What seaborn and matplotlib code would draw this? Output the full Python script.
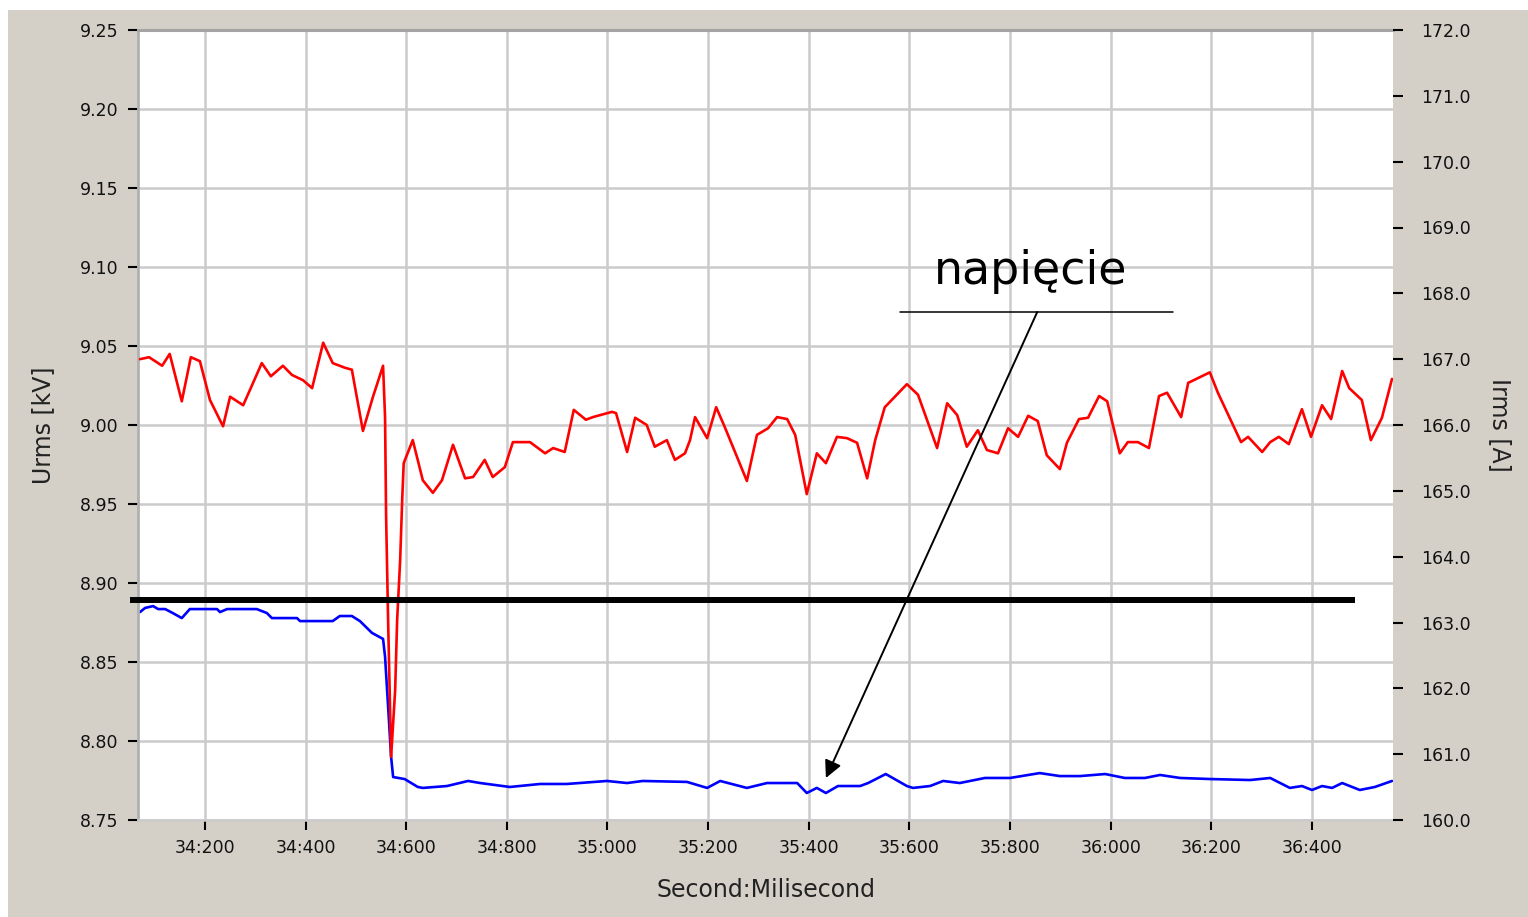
import matplotlib
matplotlib.use("Agg")
import matplotlib.pyplot as plt
from matplotlib.patches import Rectangle
from matplotlib.ticker import FixedLocator, FuncFormatter, FormatStrFormatter
import pandas as pd
import seaborn as sns

# Urms samples (left axis, kV): time in ms since the full minute
u_time_ms = [34071, 34081, 34097, 34107, 34121, 34136, 34154, 34170, 34224, 34230,
             34244, 34303, 34323, 34333, 34383, 34389, 34454, 34468, 34492, 34508,
             34532, 34554, 34558, 34562, 34566, 34570, 34574, 34597, 34623, 34633,
             34681, 34723, 34747, 34806, 34866, 34919, 34999, 35039, 35070, 35158,
             35198, 35224, 35277, 35317, 35377, 35396, 35416, 35434, 35458, 35502,
             35518, 35553, 35595, 35607, 35641, 35667, 35700, 35750, 35800, 35859,
             35899, 35939, 35989, 36028, 36068, 36098, 36138, 36201, 36277, 36317,
             36356, 36380, 36400, 36420, 36440, 36460, 36495, 36525, 36559]
u_rms_kv = [8.8816, 8.8842, 8.8854, 8.8835, 8.8835, 8.8810, 8.8778, 8.8835, 8.8835, 8.8816,
            8.8835, 8.8835, 8.8810, 8.8778, 8.8778, 8.8759, 8.8759, 8.8791, 8.8791, 8.8759,
            8.8684, 8.8646, 8.8532, 8.8323, 8.8114, 8.7899, 8.7772, 8.7759, 8.7709, 8.7703,
            8.7715, 8.7747, 8.7734, 8.7709, 8.7728, 8.7728, 8.7747, 8.7734, 8.7747, 8.7741,
            8.7703, 8.7747, 8.7703, 8.7734, 8.7734, 8.7671, 8.7703, 8.7671, 8.7715, 8.7715,
            8.7734, 8.7791, 8.7715, 8.7703, 8.7715, 8.7747, 8.7734, 8.7766, 8.7766, 8.7797,
            8.7778, 8.7778, 8.7791, 8.7766, 8.7766, 8.7785, 8.7766, 8.7759, 8.7753, 8.7766,
            8.7703, 8.7715, 8.7690, 8.7715, 8.7703, 8.7734, 8.7690, 8.7709, 8.7747]

# Irms samples (right axis, A)
i_time_ms = [34071, 34089, 34101, 34115, 34130, 34154, 34172, 34190, 34210, 34236,
             34250, 34276, 34313, 34331, 34355, 34373, 34395, 34413, 34435, 34454,
             34478, 34492, 34514, 34534, 34554, 34558, 34560, 34564, 34570, 34578,
             34582, 34588, 34592, 34595, 34613, 34633, 34653, 34671, 34693, 34717,
             34733, 34756, 34772, 34796, 34812, 34846, 34876, 34892, 34915, 34933,
             34957, 34971, 35009, 35017, 35039, 35055, 35078, 35094, 35118, 35134,
             35154, 35164, 35174, 35198, 35216, 35233, 35277, 35297, 35319, 35337,
             35357, 35373, 35396, 35416, 35434, 35456, 35476, 35496, 35516, 35532,
             35551, 35595, 35617, 35655, 35675, 35695, 35714, 35736, 35754, 35776,
             35796, 35816, 35836, 35855, 35873, 35899, 35913, 35937, 35955, 35977,
             35993, 36018, 36034, 36054, 36076, 36096, 36112, 36140, 36154, 36173,
             36197, 36213, 36259, 36273, 36301, 36317, 36334, 36354, 36380, 36398,
             36420, 36438, 36460, 36474, 36499, 36517, 36539, 36559]
i_rms_a = [167.00, 167.03, 166.97, 166.90, 167.08, 166.36, 167.03, 166.97, 166.38, 165.98,
           166.43, 166.30, 166.94, 166.74, 166.90, 166.76, 166.68, 166.56, 167.25, 166.94,
           166.87, 166.84, 165.91, 166.43, 166.90, 166.11, 164.63, 163.04, 160.96, 161.97,
           163.04, 163.95, 164.86, 165.42, 165.77, 165.16, 164.97, 165.16, 165.70, 165.19,
           165.21, 165.47, 165.21, 165.36, 165.74, 165.74, 165.57, 165.65, 165.59, 166.23,
           166.08, 166.12, 166.20, 166.18, 165.59, 166.11, 166.00, 165.67, 165.77, 165.47,
           165.57, 165.77, 166.12, 165.80, 166.27, 165.97, 165.15, 165.85, 165.95, 166.12,
           166.09, 165.85, 164.95, 165.57, 165.42, 165.82, 165.80, 165.73, 165.19, 165.77,
           166.27, 166.62, 166.46, 165.65, 166.33, 166.15, 165.67, 165.92, 165.62, 165.57,
           165.95, 165.82, 166.14, 166.06, 165.54, 165.33, 165.73, 166.09, 166.11, 166.44,
           166.36, 165.57, 165.74, 165.74, 165.65, 166.44, 166.49, 166.12, 166.64, 166.71,
           166.80, 166.49, 165.74, 165.82, 165.59, 165.74, 165.82, 165.71, 166.24, 165.82,
           166.30, 166.09, 166.82, 166.56, 166.38, 165.77, 166.11, 166.70]

# Axis ranges and ticks
x_range_ms = (34067, 36561)
x_ticks_ms = [34200, 34400, 34600, 34800, 35000, 35200, 35400, 35600, 35800, 36000, 36200, 36400]
u_ticks_kv = [8.75, 8.80, 8.85, 8.90, 8.95, 9.00, 9.05, 9.10, 9.15, 9.20, 9.25]
i_ticks_a = [160, 161, 162, 163, 164, 165, 166, 167, 168, 169, 170, 171, 172]

# Reference level and label for the voltage trace
threshold_kv = 8.889
threshold_span_ms = (34051, 36486)
note_text = "napięcie"
note_pos = (35840, 9.0892)
note_rule_ms = (35581, 36124)
note_rule_kv = 9.0715
arrow_from = (35854, 9.0715)
arrow_to = (35434, 8.7766)

sns.set_theme(style="white")
plt.rcParams["font.family"] = ["DejaVu Sans"]

W, H = 1528, 917
fig = plt.figure(figsize=(W / 100, H / 100), dpi=100, facecolor="white")
fig.patches.append(Rectangle((8 / W, 0), 1, 1 - 10 / H, transform=fig.transFigure,
                             facecolor="#d4d0c8", edgecolor="none", zorder=-10))

ax = fig.add_axes([138 / W, 1 - 820 / H, (1393 - 138) / W, (820 - 30) / H])
ax.set_facecolor("white")
ax2 = ax.twinx()

u_df = pd.DataFrame({"t": u_time_ms, "u": u_rms_kv})
i_df = pd.DataFrame({"t": i_time_ms, "i": i_rms_a})

sns.lineplot(data=u_df, x="t", y="u", ax=ax, color="#0000ff", lw=1.9,
             estimator=None, sort=False)
sns.lineplot(data=i_df, x="t", y="i", ax=ax2, color="#ff0000", lw=1.9,
             estimator=None, sort=False)

ax.set_xlim(*x_range_ms)
ax.set_ylim(u_ticks_kv[0], u_ticks_kv[-1])
ax2.set_ylim(i_ticks_a[0], i_ticks_a[-1])

ax.xaxis.set_major_locator(FixedLocator(x_ticks_ms))
ax.xaxis.set_major_formatter(FuncFormatter(lambda v, p: f"{int(round(v)) // 1000}:{int(round(v)) % 1000:03d}"))
ax.yaxis.set_major_locator(FixedLocator(u_ticks_kv))
ax.yaxis.set_major_formatter(FormatStrFormatter("%.2f"))
ax2.yaxis.set_major_locator(FixedLocator(i_ticks_a))
ax2.yaxis.set_major_formatter(FormatStrFormatter("%.1f"))

ax.grid(True, color="#cbcbcb", lw=1.8)
ax.set_axisbelow(True)
ax2.grid(False)

for a in (ax, ax2):
    for side in ("right", "top", "left", "bottom"):
        a.spines[side].set_visible(False)
ax.spines["top"].set_visible(True)
ax.spines["top"].set_color("#a4a4a4")
ax.spines["top"].set_linewidth(2.2)
ax.spines["left"].set_visible(True)
ax.spines["left"].set_color("#b0b0b0")
ax.spines["left"].set_linewidth(2.0)
ax.spines["bottom"].set_visible(True)
ax.spines["bottom"].set_color("#cbcbcb")
ax.spines["bottom"].set_linewidth(1.8)

tick_kw = dict(direction="out", length=7, width=1.5, color="black", labelsize=12.5,
               labelcolor="#111111")
ax.tick_params(axis="y", pad=7, left=True, **tick_kw)
ax.tick_params(axis="x", pad=7, bottom=True, **tick_kw)
ax2.tick_params(axis="y", pad=13, right=True, **tick_kw)

ax.set_xlabel("Second:Milisecond", fontsize=17, color="#222222", labelpad=15)
ax.set_ylabel("Urms [kV]", fontsize=17, color="#222222", labelpad=18)
ax2.set_ylabel("Irms [A]", fontsize=17, color="#222222", rotation=270,
               labelpad=30)

# Threshold line and the callout pointing at the voltage trace
ax2.plot(threshold_span_ms, [threshold_kv, threshold_kv], transform=ax.transData,
         color="black", lw=4.3, clip_on=False, solid_capstyle="butt")
ax2.plot(note_rule_ms, [note_rule_kv, note_rule_kv], transform=ax.transData,
         color="black", lw=1.1)
ax2.text(note_pos[0], note_pos[1], note_text, transform=ax.transData,
         ha="center", va="baseline", fontsize=33, color="black")
ax2.annotate("", xy=arrow_to, xytext=arrow_from, xycoords=ax.transData,
             textcoords=ax.transData,
             arrowprops=dict(arrowstyle="-|>", color="black", lw=1.4,
                             mutation_scale=26, shrinkA=0, shrinkB=0))

ax2.set_ylim(i_ticks_a[0], i_ticks_a[-1])
ax.set_xlim(*x_range_ms)

fig.savefig("out.png", dpi=100, facecolor=fig.get_facecolor())
